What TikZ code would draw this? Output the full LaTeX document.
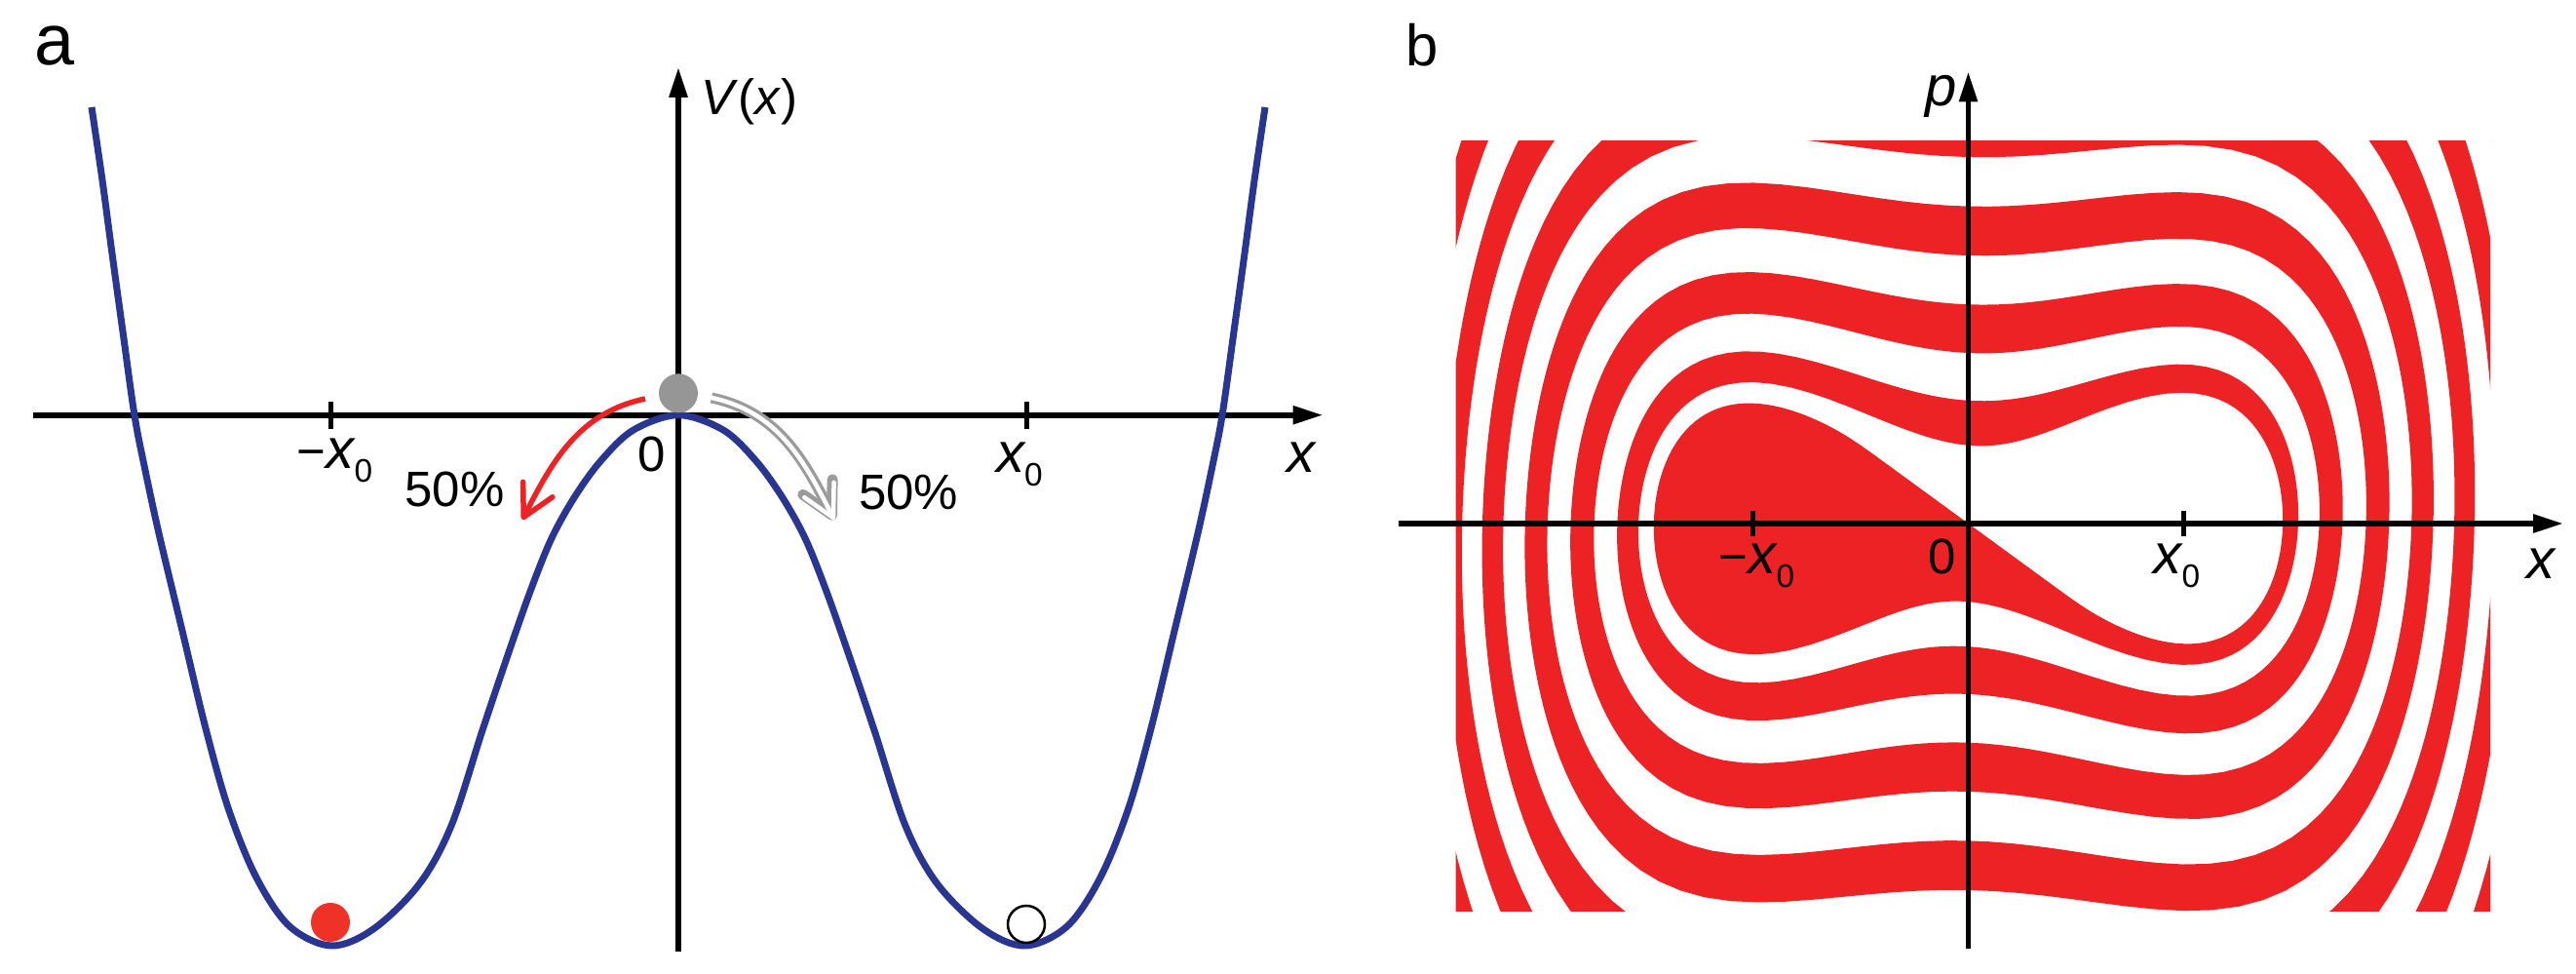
\documentclass[tikz,border=0pt]{standalone}
\usepackage{fontspec}
\setmainfont{Liberation Sans}
\usetikzlibrary{arrows.meta}

\definecolor{wellblue}{RGB}{40,54,145}
\definecolor{stripered}{RGB}{237,34,36}
\definecolor{ballred}{RGB}{238,50,40}
\definecolor{ballgray}{RGB}{150,150,150}

\newcommand{\ivar}[1]{{\fontsize{16.5}{18}\selectfont\itshape #1}}
\newcommand{\xnull}{\ivar{x}\raisebox{-0.14cm}{\fontsize{9.5}{10}\selectfont 0}}

\begin{document}
\begin{tikzpicture}[
	axis line/.style = {line width=0.057cm, -{Triangle[length=0.31cm,width=0.18cm]}},
	tick line/.style = {line width=0.05cm},
	label node/.style = {inner sep=0pt, font=\fontsize{14.5}{17}\selectfont},
	panel node/.style = {inner sep=0pt, font=\fontsize{17}{20}\selectfont},
	ball node/.style = {circle, inner sep=0pt, minimum size=0.4cm},
	barb tip/.style = {-{Straight Barb[round,length=0.32cm,width=0.34cm]}},
	declare function = {
		qa(\t) = cos(\t)^4;
		qb(\t) = sin(\t)^2-2*cos(\t)^2;
		rr(\t,\h) = sqrt(2*\h/(qb(\t)+sqrt(qb(\t)*qb(\t)+4*qa(\t)*\h)));
		lph(\u) = 125.26+54.74*\u^4;
		hs(\t) = 0.2*((\t-180)/180)^2+0.33*(\t-180)/180+0.28;
	}]

	\useasboundingbox (0,0) rectangle (26.43,9.99);

	% panel a
	\node[panel node, font=\fontsize{21}{24}\selectfont] (a) at (0.56,9.515) {a};
	\coordinate (ax0) at (0.34,5.733);
	\coordinate (ax1) at (13.575,5.733);
	\coordinate (ay0) at (6.96,0.23);
	\coordinate (ay1) at (6.96,9.30);
	\draw[axis line] (ax0) -- (ax1);
	\draw[axis line] (ay0) -- (ay1);
	\draw[tick line] (3.39,5.59) -- (3.39,5.87);
	\draw[tick line] (10.53,5.59) -- (10.53,5.87);

	\draw[wellblue, line width=0.07cm, line join=round] plot[smooth, tension=0.55] coordinates {
		(0.94,8.89) (1.05,8.14) (1.15,7.39) (1.26,6.59) (1.38,5.73) (1.485,5.19)
		(1.63,4.52) (1.87,3.52) (2.11,2.52) (2.345,1.69) (2.63,0.99) (2.97,0.49)
		(3.40,0.29) (3.83,0.46) (4.30,0.92) (4.63,1.52) (4.95,2.50) (5.22,3.30)
		(5.45,3.95) (5.66,4.47) (5.90,4.90) (6.17,5.27) (6.50,5.58) (6.96,5.733)
		(7.42,5.58) (7.75,5.27) (8.02,4.90) (8.26,4.47) (8.47,3.95) (8.70,3.30)
		(8.97,2.50) (9.29,1.52) (9.62,0.92) (10.09,0.46) (10.52,0.29) (10.95,0.49)
		(11.29,0.99) (11.575,1.69) (11.81,2.52) (12.05,3.52) (12.29,4.52) (12.435,5.19)
		(12.54,5.73) (12.66,6.59) (12.77,7.39) (12.87,8.14) (12.98,8.89)};

	\node[ball node, fill=ballgray] (top ball) at (6.96,5.957) {};
	\node[ball node, fill=ballred] (left ball) at (3.39,0.53) {};
	\node[ball node, draw=black, line width=0.025cm, fill=white, minimum size=0.38cm] (right ball) at (10.53,0.51) {};

	\coordinate (rs) at (6.62,5.90);
	\coordinate (re) at (5.36,4.66);
	\coordinate (gs) at (7.30,5.91);
	\coordinate (ge) at (8.56,4.66);
	\draw[stripered, line width=0.055cm, barb tip] (rs) to[out=192,in=63] (re);
	\draw[ballgray!95, line width=0.11cm, barb tip] (gs) to[out=-12,in=117] (ge);
	\draw[white, line width=0.045cm, barb tip] (gs) to[out=-12,in=117] (ge);

	\node[label node] (vlab) at (7.69,8.95) {\textit{V}(\textit{x})};
	\node[label node] (mx0a) at (3.435,5.265) {−\xnull};
	\node[label node] (zeroa) at (6.685,5.335) {0};
	\node[label node] (px0a) at (10.46,5.23) {\xnull};
	\node[label node] (xa) at (13.35,5.30) {\ivar{x}};
	\node[label node] (pl) at (4.665,4.975) {50\%};
	\node[label node] (pr) at (9.32,4.945) {50\%};

	% panel b
	\node[panel node] (b) at (14.595,9.532) {b};
	\begin{scope}[shift={(20.195,4.62)}, x=2.21cm, y=1.14cm]
		\clip (-2.380,-3.487) rectangle (2.423,3.443);
		\fill[stripered] (0,0)
			-- plot[domain=0.02:1, samples=60] ({lph(\x)}:{rr(lph(\x),0.28*\x)})
			-- plot[domain=180:3060, samples=1441] (\x:{rr(\x,hs(\x))})
			-- plot[domain=2880:180, samples=1351] ({\x+180}:{rr(\x,hs(\x))})
			-- plot[domain=1:0.02, samples=60] ({lph(\x)+180}:{rr(lph(\x),0.28*\x)})
			-- cycle;
	\end{scope}
	\coordinate (bx0) at (14.35,4.62);
	\coordinate (bx1) at (26.30,4.62);
	\coordinate (by0) at (20.195,0.26);
	\coordinate (by1) at (20.195,9.255);
	\draw[axis line] (bx0) -- (bx1);
	\draw[axis line] (by0) -- (by1);
	\draw[tick line] (17.985,4.49) -- (17.985,4.75);
	\draw[tick line] (22.405,4.49) -- (22.405,4.75);

	\node[label node] (mx0b) at (18.025,4.19) {−\xnull};
	\node[label node] (zerob) at (19.93,4.285) {0};
	\node[label node] (px0b) at (22.333,4.19) {\xnull};
	\node[label node] (xb) at (26.07,4.21) {\ivar{x}};
	\node[label node] (pb) at (19.915,9.00) {\ivar{p}};
\end{tikzpicture}
\end{document}
